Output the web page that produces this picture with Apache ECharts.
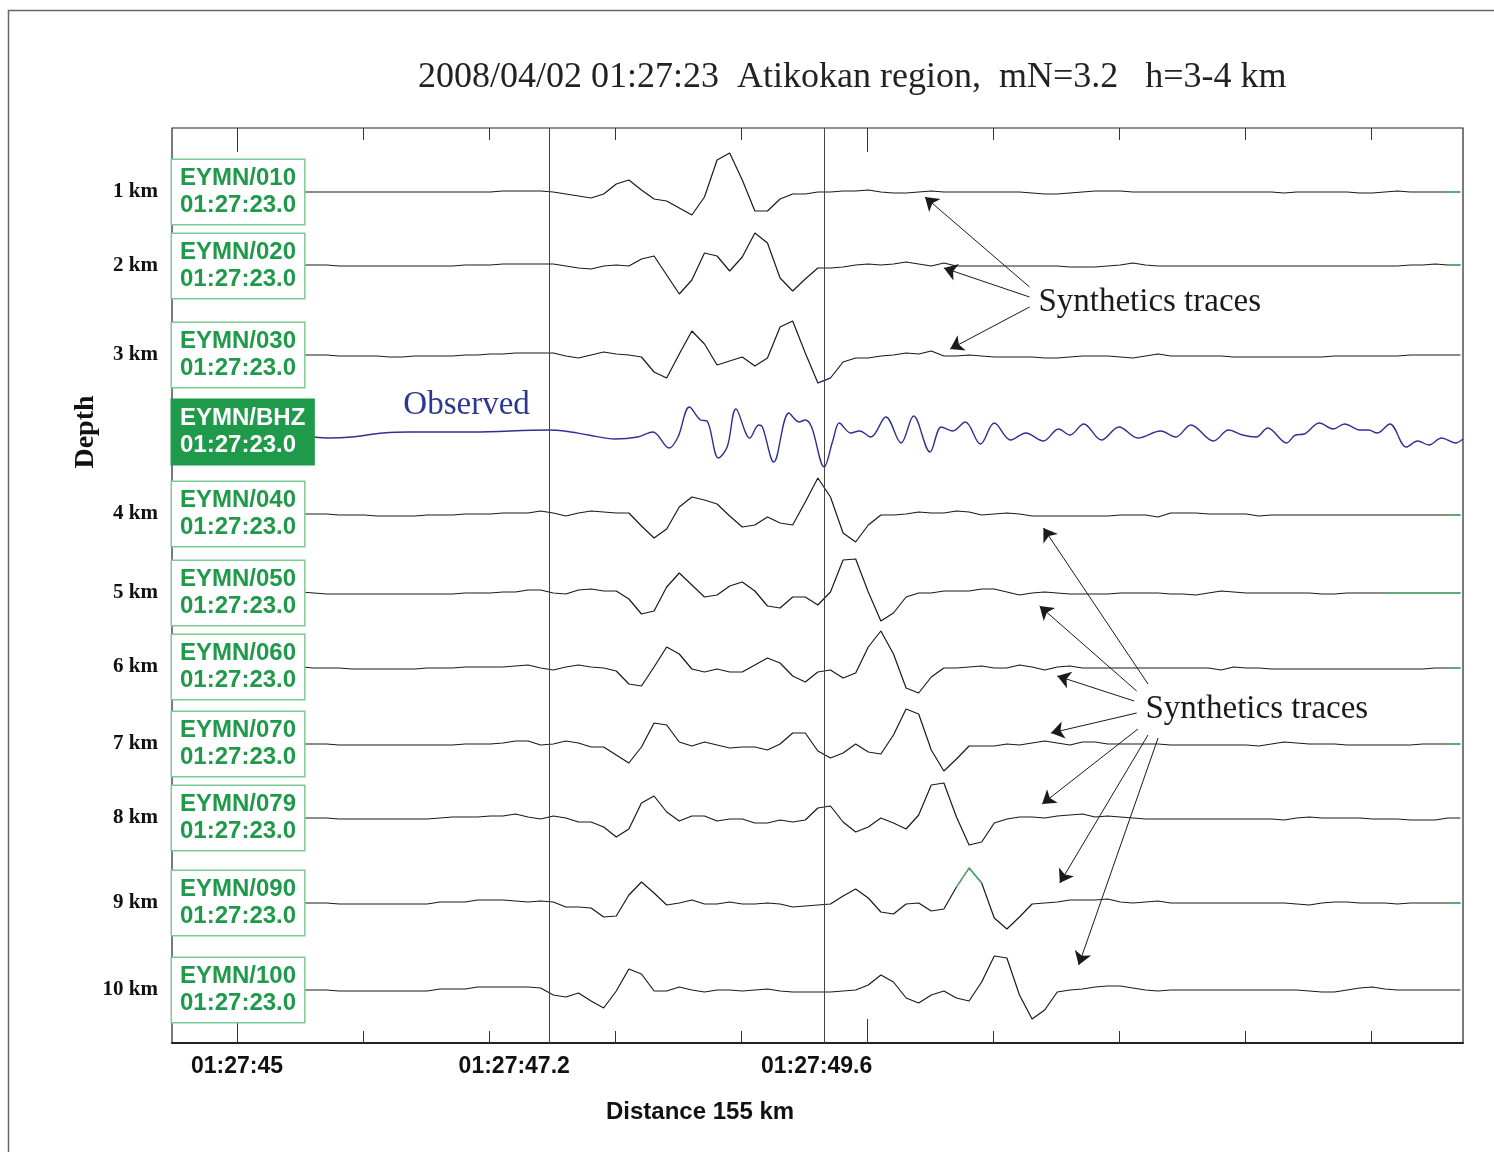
<!DOCTYPE html>
<html>
<head>
<meta charset="utf-8">
<title>EYMN synthetics vs observed</title>
<script src="https://cdn.jsdelivr.net/npm/echarts@6/dist/echarts.min.js"></script>
<style>
    html, body { margin: 0; padding: 0; background: #fff; }
    #chart { width: 1494px; height: 1152px; }
</style>
</head>
<body>
<div id="chart"></div>
<script>
// time axis, seconds after 01:27:00
var tickTimes = [45, 46, 47, 48, 49, 50, 51, 52, 53, 54];
var majorTickTimes = [45, 50];
var labelTimes = [45, 47.2, 49.6];
var tickLabels = ['01:27:45', '01:27:47.2', '01:27:49.6'];
var refTimes = [47.48, 49.66];

// synthetics are sampled every 0.1 s from 44.51 s
var sampleStart = 44.51;
var sampleStep = 0.1;

var depthLabels = ['1 km', '2 km', '3 km', '4 km', '5 km', '6 km', '7 km', '8 km', '9 km', '10 km'];
var synthNames = ['EYMN/010', 'EYMN/020', 'EYMN/030', 'EYMN/040', 'EYMN/050', 'EYMN/060', 'EYMN/070', 'EYMN/079', 'EYMN/090', 'EYMN/100'];
var synthOffsets = [851, 777, 688, 529, 450, 376, 299, 225, 140, 53];
var obsName = 'EYMN/BHZ';
var obsOffset = 611;
var startTime = '01:27:23.0';

var syn010 = [0,0,0,0,0,0,0,0,0,0, 0,0,0,0,0,0,0,0,0,0, 0,0,0,0,0,0,1,1,1,1,
    0,-2,-4,-6,-2,8,12,2,-7,-9, -16,-23,-5,32,39,12,-19,-19,-7,-2, -2,0,0,1,1,2,0,-1,-1,0,
    1,0,0,0,0,0,0,0,-1,-2, -2,-1,0,1,1,1,0,0,0,0, 0,0,0,0,0,0,0,0,-1,0, 0,0,0,0,-1,-1,0,1,0,0, 0,0,0];
var syn020 = [1,1,1,1,1,1,1,1,1,1, 1,1,1,0,0,0,0,0,0,0, 0,0,0,1,1,1,2,2,2,2,
    2,0,-2,-3,0,1,0,7,10,-9, -28,-14,13,10,-5,9,33,23,-12,-25, -13,-2,-2,-1,1,2,1,2,4,2,
    0,3,0,0,0,0,0,0,0,0, 0,-1,-1,-1,0,1,3,1,0,0, 0,0,0,0,0,0,0,0,0,0, 0,0,0,0,0,0,0,0,1,1, 2,1,1];
var syn030 = [0,0,0,0,0,0,0,0,0,0, 0,0,0,-1,-1,-1,-1,-2,-2,-1, -1,-1,-1,0,0,1,1,2,2,2,
    2,-1,-3,0,3,1,0,-2,-17,-23, 1,24,11,-10,-6,-2,-11,-3,28,34, 2,-28,-23,-7,-3,-3,-1,0,2,1,
    4,-1,-1,0,-1,-2,-2,-2,-2,-3, -3,-2,-1,-1,-1,-2,-3,-1,1,-1, -1,-1,-1,-1,-2,-2,-2,-2,-2,-2, -2,-2,-1,-1,-1,-1,-1,-1,0,0, 0,0,0];
var syn040 = [0,0,0,0,0,0,0,0,0,0, 0,0,0,-1,-1,-1,-2,-2,-2,-2, -1,-1,-1,0,0,0,1,1,1,3,
    1,-2,1,3,2,1,1,-12,-24,-15, 7,17,14,10,-2,-13,-11,-3,-9,-11, 12,36,17,-19,-28,-11,-1,-1,0,2,
    1,1,3,2,-1,0,1,0,-2,-2, -2,-2,-2,-2,-2,-1,-1,-1,-3,1, 1,1,0,0,0,0,-2,-1,-1,-1, -1,-1,-1,-1,-1,-1,-1,-1,-1,-1, -1,-1,-1];
var syn050 = [1,1,1,1,1,1,1,1,1,1, 1,0,-1,-1,-1,-1,-1,-1,-1,-1, -1,-1,-1,0,0,0,1,1,3,3,
    0,-1,3,4,2,2,-6,-21,-18,6, 20,8,-4,-2,7,11,2,-13,-15,-4, -4,-12,1,33,34,1,-28,-20,-4,0,
    0,2,2,2,4,4,1,-2,0,1, 0,-1,-1,-1,-1,0,0,0,0,-1, -1,-2,0,2,1,0,0,0,0,0, 0,-1,-1,0,0,0,0,0,0,0, 0,0,0];
var syn060 = [0,0,0,0,0,0,0,0,0,0, 0,-1,-1,-1,-2,-2,-2,-2,-2,-2, -1,-1,-1,0,0,0,0,1,2,-1,
    -3,0,2,0,-1,-4,-17,-19,0,20, 13,-2,-5,-2,-5,-5,2,9,4,-9, -15,-5,-3,-11,-6,20,36,13,-21,-26,
    -10,-1,-1,0,1,-1,-1,2,0,-3, 0,1,-1,-1,-1,-1,-1,-1,-1,-1, -1,-1,-1,-3,0,-1,-1,-2,-2,-2, -2,-2,-2,-2,-2,-2,-2,-2,-2,-2, -1,-1,-1];
var syn070 = [0,0,0,0,0,0,0,0,0,0, 0,0,0,-1,-1,-1,-1,-1,-1,-1, -1,-1,-1,0,0,0,1,3,3,-1,
    0,3,1,-3,-3,-11,-19,-3,21,19, 2,-2,2,-1,-4,-3,-3,-6,0,11, 11,-7,-14,-9,0,-8,-10,9,35,30,
    -6,-27,-15,-2,-2,-2,0,-1,1,3, 1,-1,2,2,0,0,0,0,0,-1, -1,-1,-1,-1,-1,-1,-2,0,2,1, 0,0,0,-1,-1,-1,-1,-1,-1,0, 0,0,0];
var syn079 = [0,0,0,0,0,0,0,0,0,0, 0,0,0,-1,-1,-1,-1,-1,-1,-1, -1,0,1,1,1,2,2,4,1,-1,
    2,0,-4,-4,-9,-19,-11,15,22,6, -3,2,2,-3,-1,-1,-5,-5,-2,-4, -2,10,12,-4,-14,-9,0,-5,-11,3,
    33,35,1,-27,-24,-5,-1,1,1,0, 2,3,4,1,2,1,0,-1,-1,-1, -1,-1,-1,-1,-1,-1,-1,-1,-2,0, 1,0,0,0,0,-1,-1,-1,-2,-2, -2,0,0];
var syn090 = [0,0,0,0,0,0,0,0,0,0, 0,0,0,-1,-1,-1,-1,-1,-1,-1, -1,1,1,1,3,3,3,2,1,2,
    1,-4,-4,-5,-14,-13,8,21,10,-2, 0,3,-1,-1,1,-1,-1,0,-1,-4, -3,-2,-1,7,14,5,-9,-11,-1,0,
    -8,-6,16,35,20,-15,-26,-14,-1,0, 1,3,3,3,4,1,0,1,2,0, 0,0,0,0,0,0,0,0,0,-1, -2,0,1,1,0,0,0,-1,0,0, 0,0,0];
var syn100 = [0,0,0,0,0,0,0,0,0,0, 0,0,0,-1,-1,-1,-1,-1,-1,-1, -1,1,1,1,3,3,3,3,3,2,
    -5,-7,-3,-11,-18,-1,21,16,-1,-1, 3,0,-2,0,0,-1,0,1,-1,-2, -2,-2,-2,-1,0,5,15,8,-8,-13,
    -5,-1,-8,-11,8,34,32,-5,-29,-20, -2,0,1,3,4,4,2,0,-1,0, 0,0,0,0,0,0,0,0,0,0, -1,-2,-2,0,2,3,1,0,0,0, 0,0,0];

// observed BHZ trace, [time, amplitude] at turning points
var obsTrace = [[45.61,-5],[45.73,-6],[45.91,-5],[46.16,-1],[46.37,0],[46.87,0],[47.47,2],[47.60,1],
    [47.79,-3],[48.00,-7],[48.18,-5],[48.30,0],[48.43,-16],[48.50,-5],[48.59,25],[48.68,12],[48.73,11],
    [48.82,-26],[48.89,-15],[48.96,23],[49.07,-6],[49.14,7],[49.17,5],[49.26,-30],[49.38,19],[49.46,10],
    [49.51,12],[49.56,5],[49.66,-35],[49.73,-8],[49.78,9],[49.87,-1],[49.94,1],[50.03,-5],[50.15,15],
    [50.27,-11],[50.37,16],[50.50,-20],[50.59,5],[50.68,1],[50.78,10],[50.90,-12],[51.01,9],[51.14,-8],
    [51.26,-1],[51.40,-9],[51.52,3],[51.61,-3],[51.72,8],[51.86,-8],[52.00,5],[52.15,-6],[52.33,1],
    [52.45,-5],[52.57,7],[52.75,-9],[52.87,2],[52.98,-3],[53.09,-5],[53.18,4],[53.33,-11],[53.40,-3],
    [53.47,-2],[53.59,9],[53.70,3],[53.79,8],[53.91,2],[53.98,2],[54.05,-1],[54.15,8],[54.28,-15],
    [54.37,-9],[54.46,-13],[54.56,-6],[54.67,-11],[54.73,-7]];

// stretches of synthetic traces drawn in another colour: [trace, first sample, last sample, colour]
var tintedSpans = [[0,101,102,'#4cb96d'],[1,101,102,'#4cb96d'],[2,51,52,'#2e3192'],[3,101,102,'#4cb96d'],
    [4,96,102,'#4cb96d'],[5,101,102,'#4cb96d'],[6,101,102,'#4cb96d'],[8,62,64,'#4cb96d'],[8,101,102,'#4cb96d']];

// annotations
var noteTexts = ['Observed', 'Synthetics traces', 'Synthetics traces'];
var noteAt = [[46.32, 638], [51.36, 741], [52.21, 334]];
var noteColors = ['#2b3990', '#1a1a1a', '#1a1a1a'];
var arrows = [[51.29,756,50.46,846],[51.29,746,50.61,775],[51.29,736,50.66,694],
    [52.23,359,51.40,515],[52.14,352,51.37,437],[52.12,342,51.51,367],[52.14,330,51.46,310],
    [52.15,314,51.39,239],[52.23,308,51.53,160],[52.31,305,51.68,78]];

var xMin = 44.484, xMax = 54.73;
var synthTraces = [syn010, syn020, syn030, syn040, syn050, syn060, syn070, syn079, syn090, syn100];

function traceData(vals, offset, from, to) {
    var out = [];
    for (var i = from; i <= to; i++) {
        out.push([+(sampleStart + i * sampleStep).toFixed(2), offset + vals[i]]);
    }
    return out;
}

var series = [];
synthTraces.forEach(function (vals, i) {
    series.push({
        name: synthNames[i],
        type: 'line',
        data: traceData(vals, synthOffsets[i], 0, vals.length - 1),
        showSymbol: false,
        silent: true,
        lineStyle: { color: '#1a1a1a', width: 1.2 },
        z: 2
    });
});

tintedSpans.forEach(function (s) {
    series.push({
        type: 'line',
        data: traceData(synthTraces[s[0]], synthOffsets[s[0]], s[1], s[2]),
        showSymbol: false,
        silent: true,
        lineStyle: { color: s[3], width: 1.3 },
        z: 3
    });
});

series.push({
    name: obsName,
    type: 'line',
    smooth: 0.35,
    data: obsTrace.map(function (p) { return [p[0], obsOffset + p[1]]; }),
    showSymbol: false,
    silent: true,
    lineStyle: { color: '#2e3192', width: 1.4 },
    z: 3,
    markLine: {
        silent: true,
        symbol: ['none', 'none'],
        label: { show: false },
        lineStyle: { color: '#444', width: 1, type: 'solid' },
        data: refTimes.map(function (t) { return { xAxis: t }; })
    }
});

// station boxes at the left edge
var boxData = synthNames.map(function (n, i) {
    return { value: [xMin, synthOffsets[i]], name: n };
});
boxData.splice(3, 0, {
    value: [xMin, obsOffset], name: obsName,
    label: { color: '#fff', backgroundColor: '#1f9a4a', borderColor: '#1f9a4a' }
});
series.push({
    type: 'scatter',
    data: boxData,
    symbolSize: 0,
    silent: true,
    z: 10,
    itemStyle: { opacity: 1 },
    label: {
        show: true,
        position: 'right',
        distance: 0,
        formatter: function (p) { return p.name + '\n' + startTime; },
        fontFamily: 'Liberation Sans',
        fontWeight: 'bold',
        fontSize: 24,
        lineHeight: 27,
        color: '#1f9a4a',
        backgroundColor: '#fff',
        borderColor: '#7dca96',
        borderWidth: 1.5,
        padding: [10, 8, 0, 8]
    }
});

// notes and arrows
series.push({
    type: 'scatter',
    data: noteTexts.map(function (t, i) {
        return { value: noteAt[i], name: t, label: { color: noteColors[i] } };
    }),
    symbolSize: 0,
    silent: true,
    z: 8,
    itemStyle: { opacity: 1, color: '#1a1a1a' },
    label: {
        show: true,
        position: 'right',
        distance: 0,
        formatter: '{b}',
        fontFamily: 'Liberation Serif',
        fontSize: 33
    },
    markLine: {
        silent: true,
        animation: false,
        symbol: ['none', 'arrow'],
        symbolSize: 13,
        label: { show: false },
        itemStyle: { color: '#1a1a1a' },
        lineStyle: { color: '#1a1a1a', width: 1, type: 'solid', opacity: 1 },
        data: arrows.map(function (a) {
            return [{ coord: [a[0], a[1]] }, { coord: [a[2], a[3]] }];
        })
    }
});

function timeAxis(pos, ticks, len, withLabels) {
    return {
        type: 'value',
        position: pos,
        min: xMin,
        max: xMax,
        axisLine: { show: withLabels, onZero: false, lineStyle: { color: '#222', width: 2 } },
        axisTick: { show: true, inside: true, length: len, customValues: ticks, lineStyle: { color: '#333', width: 1 } },
        axisLabel: withLabels ? {
            show: true,
            margin: 12,
            customValues: labelTimes,
            formatter: function (v) { return tickLabels[labelTimes.indexOf(v)]; },
            fontFamily: 'Liberation Sans',
            fontWeight: 'bold',
            fontSize: 23,
            color: '#111'
        } : { show: false },
        splitLine: { show: false }
    };
}

var chart = echarts.init(document.getElementById('chart'));
chart.setOption({
    animation: false,
    backgroundColor: '#fff',
    title: [{
        text: '2008/04/02 01:27:23  Atikokan region,  mN=3.2   h=3-4 km',
        left: 418, top: 60, padding: 0,
        textStyle: { fontFamily: 'Liberation Serif', fontSize: 36, fontWeight: 'normal', color: '#222' }
    }, {
        text: 'Distance 155 km',
        left: 606, top: 1100, padding: 0,
        textStyle: { fontFamily: 'Liberation Sans', fontSize: 24, fontWeight: 'bold', color: '#111' }
    }],
    graphic: [{
        type: 'rect',
        shape: { x: 8.5, y: 10.5, width: 1600, height: 1300 },
        style: { fill: 'none', stroke: '#666', lineWidth: 1.5 },
        silent: true
    }, {
        type: 'text',
        x: 86, y: 432,
        rotation: Math.PI / 2,
        style: {
            text: 'Depth',
            font: 'bold 28px "Liberation Serif"',
            fill: '#111',
            align: 'center',
            verticalAlign: 'middle'
        },
        silent: true
    }],
    grid: {
        left: 172, right: 31, top: 128, bottom: 109,
        show: true, borderColor: '#222', borderWidth: 1.2, backgroundColor: 'transparent'
    },
    xAxis: [
        timeAxis('bottom', tickTimes, 12, true),
        timeAxis('bottom', majorTickTimes, 24, false),
        timeAxis('top', tickTimes, 12, false),
        timeAxis('top', majorTickTimes, 24, false)
    ],
    yAxis: {
        type: 'value',
        min: 0,
        max: 915,
        axisLine: { show: false },
        axisTick: { show: false },
        splitLine: { show: false },
        axisLabel: {
            show: true,
            margin: 14,
            customValues: synthOffsets,
            formatter: function (v) { return depthLabels[synthOffsets.indexOf(v)]; },
            fontFamily: 'Liberation Serif',
            fontWeight: 'bold',
            fontSize: 21,
            color: '#111'
        }
    },
    series: series
});
</script>
</body>
</html>
